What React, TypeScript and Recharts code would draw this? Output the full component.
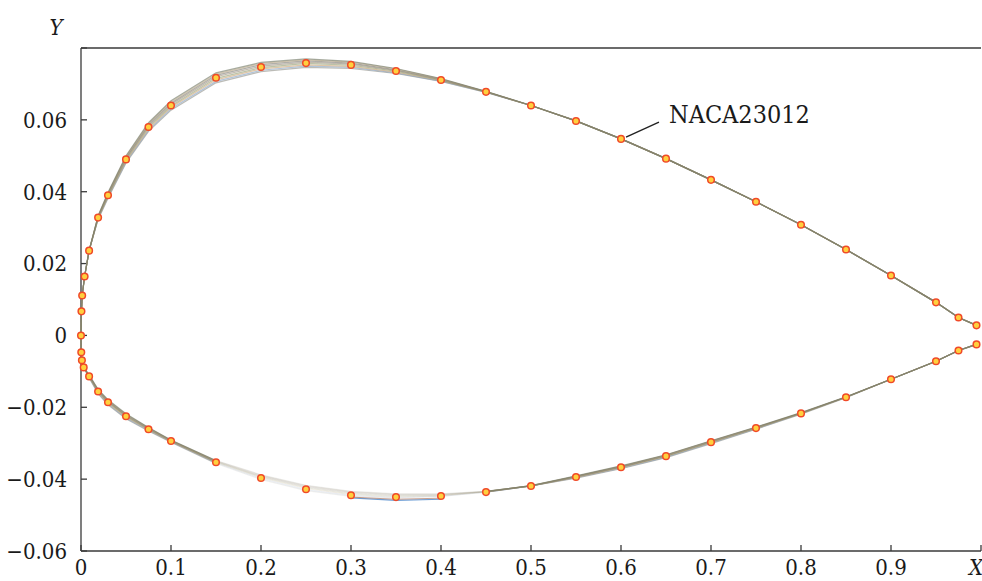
import { ScatterChart, Scatter, XAxis, YAxis, ReferenceLine, ReferenceDot } from "recharts";

const FONT = "DejaVu Serif Condensed, DejaVu Serif, serif";
const AXIS = "#3a3a3a";
const TEXT = "#1a1a1a";
const textStyle = { fontFamily: FONT, fontStretch: "condensed" } as const;

// NACA23012 section
const upperX = [0, 0.0005, 0.0013, 0.004, 0.009, 0.019, 0.03, 0.05, 0.075, 0.1, 0.15, 0.2, 0.25, 0.3, 0.35, 0.4, 0.45, 0.5, 0.55, 0.6, 0.65, 0.7, 0.75, 0.8, 0.85, 0.9, 0.95, 0.975, 0.995];
const upperY = [0, 0.0067, 0.0111, 0.0164, 0.0236, 0.0328, 0.039, 0.049, 0.058, 0.064, 0.0717, 0.0747, 0.0758, 0.0753, 0.0736, 0.0711, 0.0678, 0.064, 0.0597, 0.0547, 0.0492, 0.0433, 0.0372, 0.0308, 0.0239, 0.0167, 0.0092, 0.005, 0.0028];
const lowerX = [0.0003, 0.001, 0.003, 0.009, 0.019, 0.03, 0.05, 0.075, 0.1, 0.15, 0.2, 0.25, 0.3, 0.35, 0.4, 0.45, 0.5, 0.55, 0.6, 0.65, 0.7, 0.75, 0.8, 0.85, 0.9, 0.95, 0.975, 0.995];
const lowerY = [-0.0047, -0.0069, -0.0089, -0.0114, -0.0156, -0.0186, -0.0225, -0.0261, -0.0294, -0.0353, -0.0397, -0.0428, -0.0445, -0.045, -0.0447, -0.0436, -0.0419, -0.0394, -0.0367, -0.0336, -0.0297, -0.0258, -0.0217, -0.0172, -0.0122, -0.0072, -0.0042, -0.0025];

// spread of the family of curves around the section (thousandths of chord)
const bandUpperX = [0.019, 0.03, 0.05, 0.075, 0.1, 0.15, 0.2, 0.25, 0.3, 0.35, 0.4, 0.45];
const upperOffsets = [
  [-0.5, -0.8, -1.0, -1.2, -1.3, -1.4, -1.3, -1.2, -1.0, -0.7, -0.4, -0.15],
  [-0.35, -0.55, -0.7, -0.85, -0.9, -1.0, -0.9, -0.85, -0.7, -0.5, -0.3, -0.1],
  [-0.2, -0.3, -0.4, -0.5, -0.5, -0.55, -0.5, -0.5, -0.4, -0.3, -0.15, -0.05],
  [-0.05, -0.1, -0.1, -0.1, -0.15, -0.15, -0.15, -0.1, -0.1, -0.05, -0.05, 0],
  [0.1, 0.15, 0.2, 0.25, 0.25, 0.3, 0.25, 0.25, 0.2, 0.15, 0.1, 0],
  [0.25, 0.4, 0.5, 0.6, 0.65, 0.7, 0.65, 0.6, 0.5, 0.35, 0.2, 0.05],
  [0.4, 0.6, 0.75, 0.9, 1.0, 1.05, 1.0, 0.9, 0.75, 0.55, 0.3, 0.1],
  [0.5, 0.8, 1.0, 1.2, 1.3, 1.4, 1.3, 1.2, 1.0, 0.7, 0.4, 0.15],
];
const bandLowerX = [0.009, 0.019, 0.03, 0.05, 0.075, 0.1, 0.15, 0.2, 0.25, 0.3, 0.35, 0.4, 0.45, 0.5, 0.55, 0.6, 0.65, 0.7, 0.75, 0.8, 0.85];
const lowerOffsets = [
  [-0.4, -0.6, -0.7, -0.7, -0.5, -0.3, -0.3, -0.4, -0.4, -0.3, -0.2, -0.1, 0, 0, -0.3, -0.4, -0.4, -0.4, -0.3, -0.2, -0.1],
  [-0.25, -0.4, -0.45, -0.45, -0.3, -0.2, -0.1, -0.1, -0.1, 0, 0, 0, 0, 0, -0.2, -0.25, -0.25, -0.25, -0.2, -0.1, 0],
  [-0.1, -0.2, -0.2, -0.2, -0.15, -0.1, 0, 0.1, 0.2, 0.2, 0.15, 0.1, 0.05, 0, -0.1, -0.1, -0.1, -0.1, -0.1, 0, 0],
  [0, 0, 0, 0, 0, 0, 0.1, 0.3, 0.4, 0.4, 0.35, 0.2, 0.1, 0.05, 0, 0, 0, 0, 0, 0, 0],
  [0.1, 0.15, 0.2, 0.2, 0.15, 0.1, 0.2, 0.45, 0.6, 0.6, 0.5, 0.3, 0.1, 0.05, 0.1, 0.1, 0.1, 0.1, 0.1, 0.05, 0],
  [0.2, 0.3, 0.35, 0.35, 0.25, 0.15, 0.3, 0.6, 0.8, 0.8, 0.65, 0.4, 0.15, 0.05, 0.15, 0.2, 0.2, 0.2, 0.15, 0.1, 0.05],
  [0.3, 0.45, 0.5, 0.5, 0.4, 0.2, 0.4, 0.75, 0.95, 0.95, 0.8, 0.5, 0.2, 0.1, 0.2, 0.3, 0.3, 0.3, 0.2, 0.15, 0.05],
  [0.4, 0.6, 0.7, 0.7, 0.5, 0.3, 0.5, 0.9, 1.1, 1.1, 0.9, 0.6, 0.2, 0.1, 0.3, 0.4, 0.4, 0.4, 0.3, 0.2, 0.1],
];
const curveColors = ["#8e8e86", "#7f9cc0", "#c9a06e", "#8f9b6c", "#9a8c78", "#7c7a72", "#b4a27e", "#6e7460"];

// the two curves that dip under the section between 0.3 and 0.4
const dipX = [0.3, 0.35, 0.4];
const dipBlueY = [-0.0452, -0.0459, -0.0456];
const dipRedY = [-0.045, -0.0456, -0.0453];

const xTicks = [0, 0.1, 0.2, 0.3, 0.4, 0.5, 0.6, 0.7, 0.8, 0.9, 1];
const yTicks = [-0.06, -0.04, -0.02, 0, 0.02, 0.04, 0.06, 0.08];

type Pt = { x: number; y: number };

const offsetAt = (bandX: number[], row: number[], x: number) => {
  const j = bandX.indexOf(x);
  return j < 0 ? 0 : row[j] / 1000;
};

const upperCurves: Pt[][] = upperOffsets.map((row) =>
  upperX.map((x, i) => ({ x, y: upperY[i] + offsetAt(bandUpperX, row, x) })).reverse()
);
const lowerCurves: Pt[][] = lowerOffsets.map((row) =>
  lowerX.map((x, i) => ({ x, y: lowerY[i] + offsetAt(bandLowerX, row, x) }))
);
const FADE_START = lowerX.indexOf(0.15);
const FADE_END = lowerX.indexOf(0.45);

const points: Pt[] = [
  ...upperX.map((x, i) => ({ x, y: upperY[i] })),
  ...lowerX.map((x, i) => ({ x, y: lowerY[i] })),
];
const dipBlue = dipX.map((x, i) => ({ x, y: dipBlueY[i] }));
const dipRed = dipX.map((x, i) => ({ x, y: dipRedY[i] }));

const noDot = () => <g />;

function XTick(props: any) {
  const { x, y, payload } = props;
  const v = payload.value as number;
  if (v === 1) {
    return (
      <text x={x - 5} y={y} dy="0.71em" textAnchor="middle" style={textStyle} fontSize={22} fontStyle="italic" fill={TEXT}>
        X
      </text>
    );
  }
  return (
    <text x={x} y={y} dy="0.71em" textAnchor="middle" style={textStyle} fontSize={22} fill={TEXT}>
      {v === 0 ? "0" : v.toFixed(1)}
    </text>
  );
}

const yFormat = (v: number) => {
  if (v === 0) return "0";
  if (v > 0.07) return "";
  return v < 0 ? "\u2212" + Math.abs(v).toFixed(2) : v.toFixed(2);
};

export default function App() {
  return (
    <div style={{ position: "absolute", left: 0, top: 0, width: 982, height: 581, background: "#fff" }}>
      <ScatterChart width={982} height={581} margin={{ top: 48, right: 1, bottom: 0, left: 0 }}>
        <XAxis
          dataKey="x"
          type="number"
          domain={[0, 1]}
          ticks={xTicks}
          interval={0}
          height={30}
          tickSize={-6}
          tickMargin={14}
          axisLine={{ stroke: AXIS, strokeWidth: 1.3 }}
          tickLine={{ stroke: AXIS, strokeWidth: 1.3 }}
          tick={<XTick />}
        />
        <YAxis
          dataKey="y"
          type="number"
          domain={[-0.06, 0.08]}
          ticks={yTicks}
          interval={0}
          width={81}
          tickSize={-6}
          tickMargin={20}
          axisLine={{ stroke: AXIS, strokeWidth: 1.3 }}
          tickLine={{ stroke: AXIS, strokeWidth: 1.3 }}
          tick={{ style: textStyle, fontSize: 22, fill: TEXT }}
          tickFormatter={yFormat}
          label={{
            content: (p: any) => (
              <text
                x={p.viewBox.x + p.viewBox.width - 25}
                y={p.viewBox.y - 13}
                textAnchor="middle"
                style={textStyle}
                fontSize={22}
                fontStyle="italic"
                fill={TEXT}
              >
                Y
              </text>
            ),
          }}
        />
        <ReferenceLine y={0.08} stroke={AXIS} strokeWidth={1.3} />

        {upperCurves.map((up, k) => (
          <Scatter
            key={"a" + k}
            data={[...up, ...lowerCurves[k].slice(0, FADE_START + 1)]}
            shape={noDot}
            line={{ stroke: curveColors[k], strokeWidth: 1.2, strokeOpacity: 0.6 }}
            isAnimationActive={false}
          />
        ))}
        {lowerCurves.map((lo, k) => (
          <Scatter
            key={"b" + k}
            data={lo.slice(FADE_START, FADE_END + 1)}
            shape={noDot}
            line={{ stroke: curveColors[k], strokeWidth: 1.2, strokeOpacity: 0.14 }}
            isAnimationActive={false}
          />
        ))}
        {lowerCurves.map((lo, k) => (
          <Scatter
            key={"c" + k}
            data={lo.slice(FADE_END)}
            shape={noDot}
            line={{ stroke: curveColors[k], strokeWidth: 1.2, strokeOpacity: 0.6 }}
            isAnimationActive={false}
          />
        ))}
        <Scatter data={dipBlue} shape={noDot} line={{ stroke: "#6f9fd6", strokeWidth: 1.2 }} isAnimationActive={false} />
        <Scatter data={dipRed} shape={noDot} line={{ stroke: "#b07860", strokeWidth: 1, strokeOpacity: 0.7 }} isAnimationActive={false} />

        <ReferenceLine
          segment={[
            { x: 0.6056, y: 0.0552 },
            { x: 0.6422, y: 0.0594 },
          ]}
          stroke="#222"
          strokeWidth={1.4}
        />
        <ReferenceDot
          x={0.6533}
          y={0.0592}
          r={0}
          shape={(p: any) => (
            <text x={p.cx} y={p.cy} style={textStyle} fontSize={25} fill={TEXT}>
              NACA23012
            </text>
          )}
        />

        <Scatter
          data={points}
          isAnimationActive={false}
          shape={(p: any) => <circle cx={p.cx} cy={p.cy} r={3.3} fill="#ffd03e" stroke="#f04a28" strokeWidth={1.5} />}
        />
      </ScatterChart>
    </div>
  );
}
